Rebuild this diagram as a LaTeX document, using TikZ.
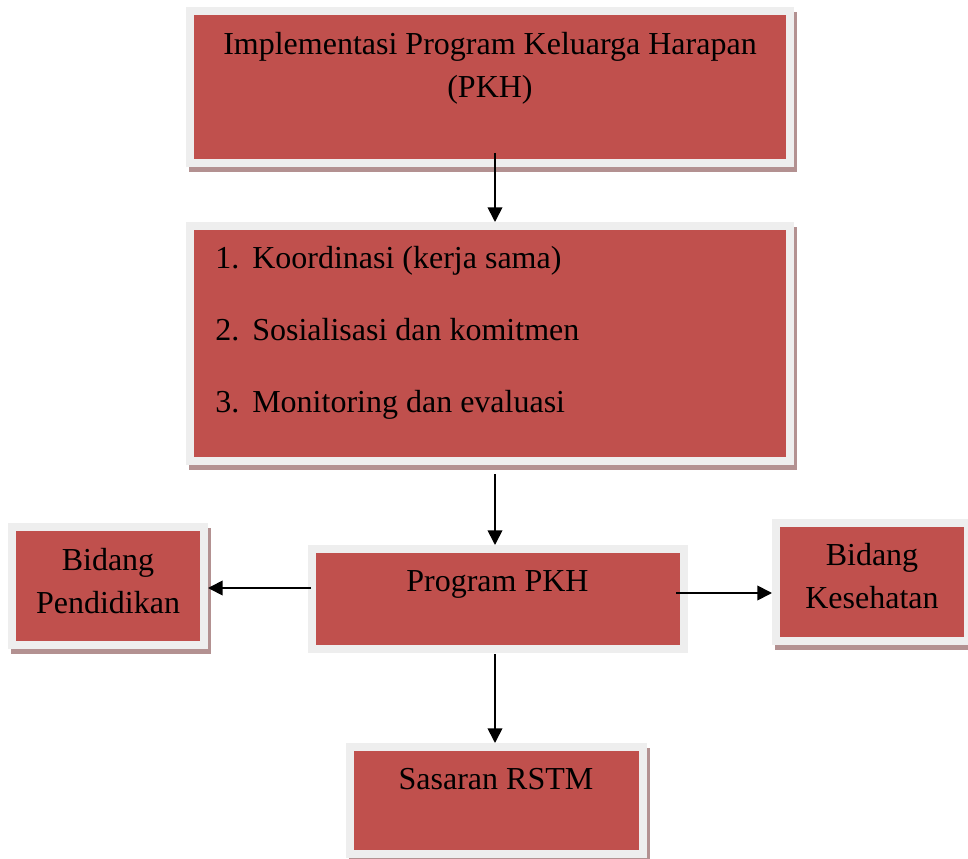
\documentclass[tikz,border=0pt]{standalone}
\usepackage{fontspec}
\setmainfont{Liberation Serif}
\usetikzlibrary{arrows.meta}
\definecolor{boxred}{HTML}{C0504D}
\definecolor{boxrim}{HTML}{EEEEEE}
\definecolor{boxshade}{HTML}{B39191}

\begin{document}
\begin{tikzpicture}[x=.75pt, y=-.75pt,
		kotak/.style={fill=boxred, draw=boxrim, line width=6pt, inner sep=0pt},
		bayang/.style={preaction={fill=boxshade, draw=boxshade, transform canvas={shift={(2.25pt,-3.75pt)}}}},
		teks/.style={inner sep=0pt, font=\fontsize{24}{32}\selectfont, align=center},
		panah/.style={line width=1.3pt, -{Triangle[length=11pt, width=11pt]}}]
		\useasboundingbox(0, 0) rectangle (968, 859);
		\node[kotak, bayang, minimum width=450pt, minimum height=114pt](impl) at(490, 87){};
		\node[kotak, bayang, minimum width=450pt, minimum height=176.25pt](koor) at(490, 343.5){};
		\node[kotak, minimum width=279pt, minimum height=75pt](prog) at(498, 599){};
		\node[kotak, bayang, minimum width=144pt, minimum height=88.5pt](pend) at(108, 586){};
		\node[kotak, bayang, minimum width=144pt, minimum height=88.5pt](kes) at(872, 582){};
		\node[kotak, bayang, minimum width=219.75pt, minimum height=80.25pt](sas) at(496.5, 800.5){};
		\node[teks, anchor=north](implt) at(490, 32){Implementasi Program Keluarga Harapan\\(PKH)};
		\node[teks, anchor=north west, align=left](koort) at(215, 246){\makebox[27.75pt][l]{1.}Koordinasi (kerja sama)\\[22pt]
			\makebox[27.75pt][l]{2.}Sosialisasi dan komitmen\\[22pt]
			\makebox[27.75pt][l]{3.}Monitoring dan evaluasi};
		\node[teks, anchor=base](progt) at(497.5, 591){Program PKH};
		\node[teks, anchor=north](pendt) at(108, 548){Bidang\\Pendidikan};
		\node[teks, anchor=north](kest) at(872, 543){Bidang\\Kesehatan};
		\node[teks, anchor=base](sast) at(496, 789){Sasaran RSTM};
		\draw[panah]([xshift=3.75pt, yshift=10.5pt]impl.south)--([xshift=3.75pt]koor.north);
		\draw[panah]([xshift=3.75pt, yshift=-6.75pt]koor.south)--([xshift=-2.25pt]prog.north);
		\draw[panah]([xshift=2.25pt, yshift=8.25pt]prog.west)--([yshift=-1.5pt]pend.east);
		\draw[panah]([xshift=-9pt, yshift=4.5pt]prog.east)--([yshift=-8.25pt]kes.west);
		\draw[panah]([xshift=-2.25pt, yshift=-.75pt]prog.south)--([xshift=-1.125pt]sas.north);
	\end{tikzpicture}
\end{document}
